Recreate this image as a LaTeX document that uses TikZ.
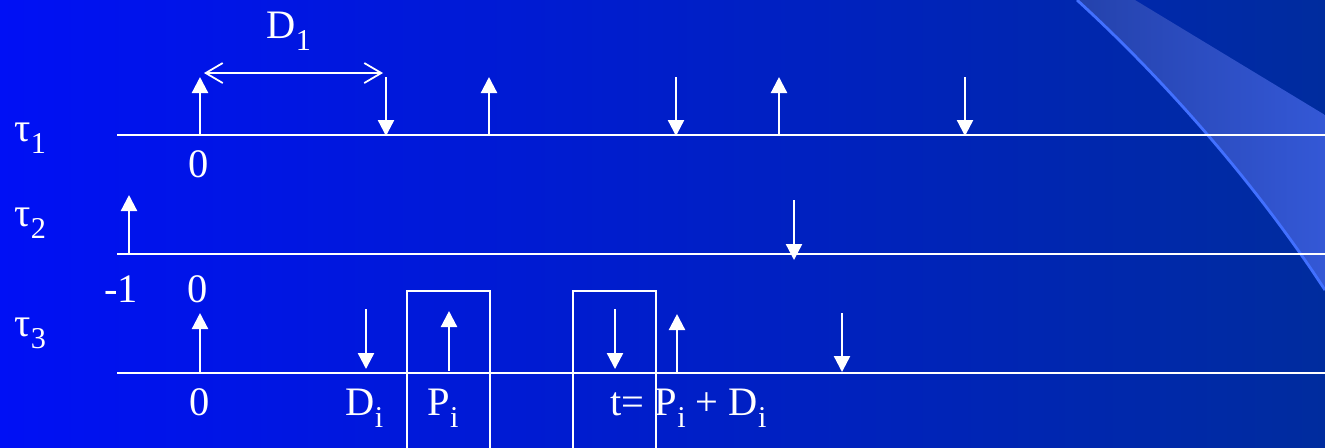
\documentclass[tikz,border=0pt]{standalone}
\usepackage{fontspec}
\setmainfont{Liberation Serif}
\usepackage{xcolor}
\usepackage{tikz}
\usetikzlibrary{arrows.meta}
\definecolor{bgleft}{RGB}{0,16,245}
\definecolor{bgmid}{RGB}{0,34,212}
\definecolor{bgright}{RGB}{0,44,158}
\definecolor{bandleft}{RGB}{36,66,172}
\definecolor{bandright}{RGB}{52,88,214}
\definecolor{bandedge}{RGB}{66,112,255}
\newcommand\lo[1]{\raisebox{-0.32em}{\fontsize{8.6}{10}\selectfont #1}}

\begin{document}
\begin{tikzpicture}[
  x=0.01cm, y=-0.01cm,
  lbl/.style={text=white, inner sep=0pt, anchor=base, font=\fontsize{11.5}{13}\selectfont},
  axis/.style={white, line width=0.6pt},
  up/.style={-{Triangle[length=0.16cm, width=0.16cm]}, white, line width=0.65pt},
  down/.style={-{Triangle[length=0.16cm, width=0.16cm]}, white, line width=0.65pt},
  span/.style={{Straight Barb[length=0.17cm, width=0.2cm]}-{Straight Barb[length=0.17cm, width=0.2cm]}, white, line width=0.5pt},
  slot/.style={white, line width=0.55pt}
]
% background
\useasboundingbox (0,0) rectangle (1325,447);
\shade[left color=bgleft, middle color=bgmid, right color=bgright] (0,0) rectangle (1325,447);
\shade[left color=bandleft, right color=bandright]
  (1077,0) .. controls (1170,85) and (1260,190) .. (1325,290) -- (1325,115) -- (1135,0) -- cycle;
\draw[bandedge, line width=0.8pt] (1077,0) .. controls (1170,85) and (1260,190) .. (1325,290);

% task names
\node[lbl, anchor=base west] (n1) at (14,141) {τ\lo{1}};
\node[lbl, anchor=base west] (n2) at (14,226) {τ\lo{2}};
\node[lbl, anchor=base west] (n3) at (14,336) {τ\lo{3}};

% time lines
\coordinate (l1a) at (117,135); \coordinate (l1b) at (1325,135);
\coordinate (l2a) at (117,254); \coordinate (l2b) at (1325,254);
\coordinate (l3a) at (117,373); \coordinate (l3b) at (1325,373);
\draw[axis] (l1a) -- (l1b);
\draw[axis] (l2a) -- (l2b);
\draw[axis] (l3a) -- (l3b);

% tau 1
\node[lbl] (z1) at (199,177) {0};
\node[lbl, anchor=base west] (d1) at (266,38) {D\lo{1}};
\draw[span] (204,73) -- (383,73);
\draw[up]   (200,135) -- (200,77);
\draw[down] (386,77)  -- (386,136);
\draw[up]   (489,135) -- (489,77);
\draw[down] (676,77)  -- (676,136);
\draw[up]   (779,135) -- (779,77);
\draw[down] (965,77)  -- (965,136);

% tau 2
\node[lbl] (m1) at (121,302) {-1};
\node[lbl] (z2) at (198,302) {0};
\draw[up]   (129,254) -- (129,195);
\draw[down] (794,200) -- (794,260);

% tau 3
\draw[slot] (407,450) |- (490,291) -- (490,450);
\draw[slot] (573,450) |- (656,291) -- (656,450);
\draw[up]   (200,373) -- (200,313);
\draw[down] (366,309) -- (366,369);
\draw[up]   (449,371) -- (449,311);
\draw[down] (615,309) -- (615,369);
\draw[up]   (677,373) -- (677,314);
\draw[down] (842,313) -- (842,372);
\node[lbl] (z3) at (200,415) {0};
\node[lbl, anchor=base west] (di) at (345,415) {D\lo{i}};
\node[lbl, anchor=base west] (pi) at (427,415) {P\lo{i}};
\node[lbl, anchor=base west] (tt) at (610,415) {t= P\lo{i} + D\lo{i}};
\end{tikzpicture}
\end{document}
